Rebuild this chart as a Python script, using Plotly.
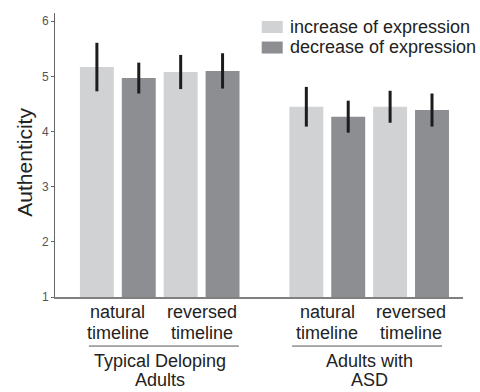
import plotly.graph_objects as go

# Data
series_names = ["increase of expression", "decrease of expression"]
conditions = [("natural", "timeline"), ("reversed", "timeline"),
              ("natural", "timeline"), ("reversed", "timeline")]
groups = [("Typical Deloping", "Adults"), ("Adults with", "ASD")]
y_title = "Authenticity"

increase_vals = [5.17, 5.08, 4.45, 4.45]
increase_err = [0.44, 0.31, 0.36, 0.29]
decrease_vals = [4.97, 5.10, 4.27, 4.39]
decrease_err = [0.28, 0.32, 0.29, 0.30]

# bar positions: each condition has an increase bar then a decrease bar
cond_centers = [1.5, 3.5, 6.5, 8.5]
inc_x = [c - 0.5 for c in cond_centers]
dec_x = [c + 0.5 for c in cond_centers]
group_centers = [2.5, 7.5]

FONT = "Liberation Sans, Arial, Helvetica, sans-serif"
LIGHT = "#d1d2d4"
DARK = "#8d8e92"
ERR = "#1c1c1c"
TXT = "#222222"
colors = [LIGHT, DARK]

W, H = 480, 392
left, right, top, bottom = 55, 17, 13, 95.3
plot_w = W - left - right
plot_h = H - top - bottom

def px_x(px):
    return (px - left) / plot_w

def py(px):
    return (H - bottom - px) / plot_h

fig = go.Figure()
fig.add_trace(go.Bar(
    x=inc_x, y=increase_vals, name=series_names[0], marker_color=LIGHT,
    marker_line_width=0, width=0.81,
    error_y=dict(type="data", array=increase_err, color=ERR, thickness=3, width=0),
))
fig.add_trace(go.Bar(
    x=dec_x, y=decrease_vals, name=series_names[1], marker_color=DARK,
    marker_line_width=0, width=0.81,
    error_y=dict(type="data", array=decrease_err, color=ERR, thickness=3, width=0),
))

# condition labels (two lines each)
for cx, (l1, l2) in zip(cond_centers, conditions):
    for txt, ypx in ((l1, 311.7), (l2, 333.0)):
        fig.add_annotation(x=cx, y=py(ypx), xref="x", yref="paper", text=txt,
                           showarrow=False, xanchor="center", yanchor="middle",
                           font=dict(family=FONT, size=18, color=TXT))

# group underline shapes
for x0, x1 in [(0.81, 4.39), (5.66, 9.24)]:
    fig.add_shape(type="line", xref="x", yref="paper", x0=x0, x1=x1,
                  y0=py(345.7), y1=py(345.7), line=dict(color="#555555", width=1))

# group labels (two lines each)
for gc, (g1, g2) in zip(group_centers, groups):
    for txt, ypx in ((g1, 360.5), (g2, 379.5)):
        fig.add_annotation(x=gc, y=py(ypx), xref="x", yref="paper", text=txt,
                           showarrow=False, yanchor="middle", xanchor="center",
                           font=dict(family=FONT, size=18, color=TXT))

# y-axis title as annotation for precise placement
fig.add_annotation(x=px_x(25), y=py(162.5), xref="paper", yref="paper",
                   text=y_title, textangle=-90, showarrow=False,
                   xanchor="center", yanchor="middle",
                   font=dict(family=FONT, size=21, color=TXT))

# legend drawn as swatches + labels
legend_rows = [(21, 33, 26.7), (41.5, 53.5, 47.2)]
for (y0, y1, yc), name, col in zip(legend_rows, series_names, colors):
    fig.add_shape(type="rect", xref="paper", yref="paper",
                  x0=px_x(261.7), x1=px_x(282.7), y0=py(y1), y1=py(y0),
                  fillcolor=col, line=dict(width=0))
    fig.add_annotation(x=px_x(288), y=py(yc), xref="paper", yref="paper",
                       text=name, showarrow=False, xanchor="left", yanchor="middle",
                       font=dict(family=FONT, size=18, color=TXT))

fig.update_layout(
    width=W, height=H,
    margin=dict(l=left, r=right, t=top, b=bottom),
    plot_bgcolor="white", paper_bgcolor="white",
    barmode="overlay",
    font=dict(family=FONT, color=TXT),
    showlegend=False,
    xaxis=dict(range=[0, 9.74], tickvals=cond_centers, showticklabels=False,
               showline=True, linecolor="#808080", linewidth=1.5,
               showgrid=False, zeroline=False, ticks=""),
    yaxis=dict(range=[1, 6.15], tickvals=[1, 2, 3, 4, 5, 6],
               showline=True, linecolor="#666666", linewidth=1,
               showgrid=False, zeroline=False, ticks="outside", ticklen=3,
               tickcolor="#666666",
               tickfont=dict(family=FONT, size=12, color="#555555")),
)

fig.write_html("out.html")
